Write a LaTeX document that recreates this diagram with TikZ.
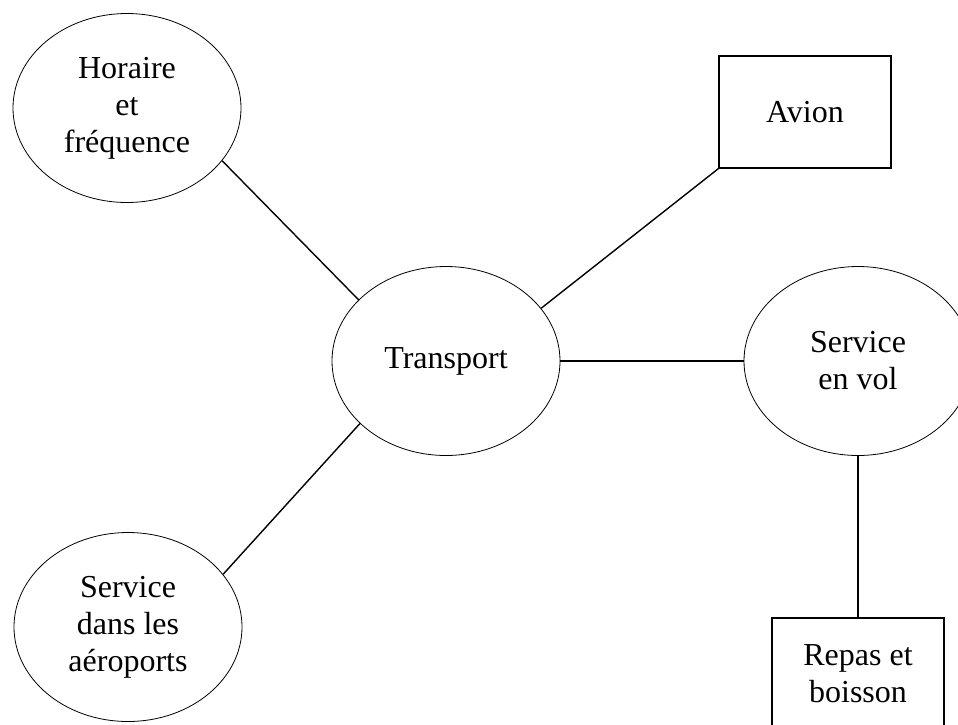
\documentclass[tikz,border=0pt]{standalone}
\usepackage{fontspec}
\setmainfont{Liberation Serif}
\usetikzlibrary{shapes.geometric}

\begin{document}
\begin{tikzpicture}[x=1pt, y=-1pt,
    bulle/.style={draw, ellipse, line width=0.8pt, inner sep=0pt, minimum width=228pt, minimum height=189pt, align=center, font=\fontsize{32}{37}\selectfont},
    boite/.style={draw, rectangle, line width=1.1pt, inner sep=0pt, minimum width=172pt, minimum height=112pt, align=center, font=\fontsize{32}{37}\selectfont},
    lien/.style={line width=1.4pt}]
    \clip (0,0) rectangle (958,724);
    \node[bulle] (horaire) at (127,108) {Horaire\\et\\fréquence};
    \node[bulle] (transport) at (446,361) {Transport};
    \node[bulle] (vol) at (858,361) {Service\\en vol};
    \node[bulle] (aeroports) at (128,627) {Service\\dans les\\aéroports};
    \node[boite] (avion) at (805,112) {Avion};
    \node[boite] (repas) at (858,674) {Repas et\\boisson};
    \draw[lien] (horaire.-29) -- (transport.145);
    \draw[lien] (aeroports.29) -- (transport.216);
    \draw[lien] (transport.29) -- (avion.south west);
    \draw[lien] (transport.east) -- (vol.west);
    \draw[lien] (vol.south) -- (repas.north);
\end{tikzpicture}
\end{document}
